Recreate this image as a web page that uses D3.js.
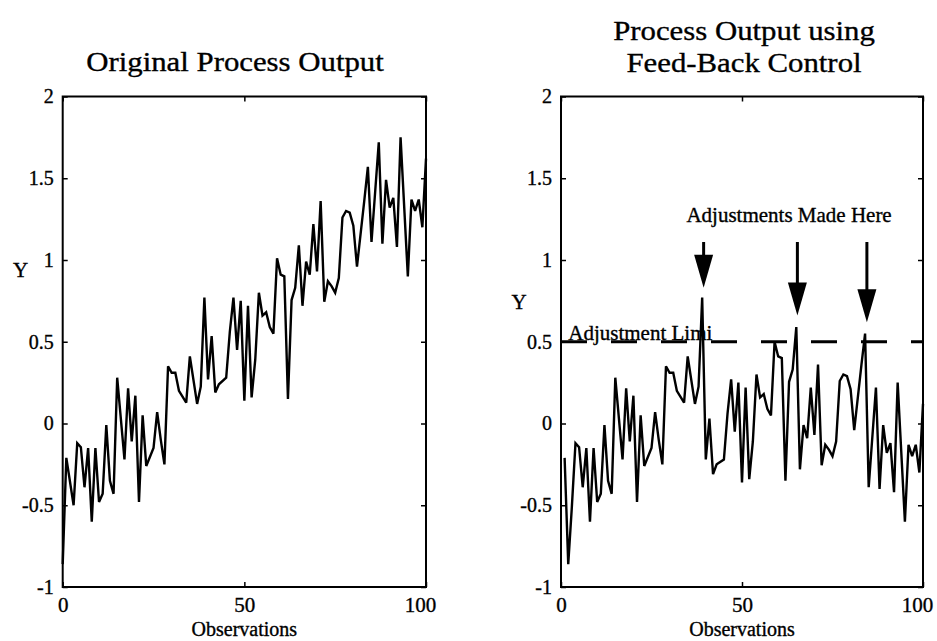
<!DOCTYPE html>
<html>
<head>
<meta charset="utf-8">
<script src="https://cdn.jsdelivr.net/npm/d3@7"></script>
<style>
  html, body { margin: 0; padding: 0; background: #fff; }
  svg { display: block; }
  text { font-family: "Liberation Serif", "Times New Roman", serif; fill: #000; stroke: #000; stroke-width: 0.35px; }
</style>
</head>
<body>
<svg id="chart" width="937" height="641"></svg>
<script>
// ---------- data ----------
const obsOriginal = [0,1,3,4,5,6,7,8,9,10,11,12,13,14,15,17,18,19,20,21,22,23,25,26,27,28,29,30,31,32,34,35,37,38,39,
  40,41,42,43,45,46,47,48,49,50,51,52,53,54,55,56,57,58,59,60,61,62,63,64,65,
  66,67,68,69,70,71,72,73,74,75,76,77,78,79,80,81,83,84,85,87,88,89,90,91,92,93,95,96,97,98,99,100];
const valuesOriginal = [-0.86,-0.21,-0.50,-0.12,-0.145,-0.39,-0.15,-0.60,-0.15,-0.48,-0.43,-0.01,-0.35,-0.43,0.28,-0.22,0.215,-0.11,0.17,-0.48,0.05,-0.26,-0.15,0.07,-0.10,-0.25,0.35,0.31,0.31,0.20,0.127,0.41,0.12,0.225,0.77,
  0.27,0.535,0.19,0.24,0.28,0.56,0.77,0.45,0.75,0.14,0.72,0.16,0.39,0.80,0.66,0.68,0.59,0.55,1.01,0.91,0.90,0.15,0.755,0.83,1.09,
  0.72,0.99,0.91,1.22,0.93,1.36,0.745,0.87,0.84,0.80,0.89,1.26,1.30,1.29,1.21,0.96,1.36,1.57,1.11,1.72,1.10,1.49,1.32,1.38,1.08,1.75,0.90,1.37,1.30,1.37,1.20,1.62];

const obsControlled = [1,2,3,4,5,6,7,8,9,10,11,12,13,14,15,17,18,19,20,21,22,23,25,26,27,28,29,30,31,32,34,35,37,38,39,
  40,41,42,43,45,46,47,48,49,50,51,52,53,54,55,56,57,58,59,60,61,62,63,64,65,
  66,67,68,69,70,71,72,73,74,75,76,77,78,79,80,81,83,84,85,87,88,89,90,91,92,93,95,96,97,98,99,100];
const valuesControlled = [-0.21,-0.86,-0.51,-0.12,-0.145,-0.39,-0.15,-0.60,-0.15,-0.48,-0.43,-0.01,-0.35,-0.43,0.28,-0.22,0.215,-0.11,0.17,-0.48,0.05,-0.26,-0.15,0.07,-0.10,-0.25,0.35,0.31,0.31,0.20,0.127,0.41,0.12,0.225,0.77,
  -0.22,0.03,-0.31,-0.25,-0.22,0.06,0.27,-0.05,0.25,-0.36,0.22,-0.34,-0.11,0.30,0.16,0.18,0.09,0.05,0.50,0.41,0.40,-0.35,0.255,0.33,0.59,
  -0.28,-0.01,-0.09,0.22,-0.07,0.36,-0.255,-0.13,-0.16,-0.20,-0.11,0.26,0.30,0.29,0.21,-0.04,0.36,0.55,-0.39,0.22,-0.40,-0.01,-0.18,-0.12,-0.42,0.25,-0.60,-0.13,-0.20,-0.13,-0.30,0.12];

const yTickValues = [-1, -0.5, 0, 0.5, 1, 1.5, 2];
const yTickLabels = ["-1", "-0.5", "0", "0.5", "1", "1.5", "2"];
const xTickValues = [0, 50, 100];
const xTickLabels = ["0", "50", "100"];

const adjustmentLimit = 0.5;
const adjustmentObs = [39.4, 65.3, 84.5];
const arrowTipValues = [0.83, 0.66, 0.62];
const arrowTopValue = 1.11;

const titleLeft = ["Original Process Output"];
const titleRight = ["Process Output using", "Feed-Back Control"];

// ---------- layout ----------
const svg = d3.select("#chart");
const y = d3.scaleLinear().domain([-1, 2]).range([587, 96.5]);
const xL = d3.scaleLinear().domain([0, 100]).range([62.7, 426]);
const xR = d3.scaleLinear().domain([0, 100]).range([561, 923]);

const fmtY = d => yTickLabels[yTickValues.indexOf(d)];
const fmtX = d => xTickLabels[xTickValues.indexOf(d)];

function panel(x, obs, vals, yLabelY) {
  const g = svg.append("g");
  // left axis with labels
  const ax = g.append("g").attr("transform", `translate(${x.range()[0]},0)`)
    .call(d3.axisLeft(y).tickValues(yTickValues).tickFormat(fmtY).tickSizeInner(-5).tickSizeOuter(0).tickPadding(9));
  ax.select(".domain").remove();
  ax.selectAll("line").attr("stroke", "#000").attr("stroke-width", 1.5);
  ax.selectAll("text").attr("font-size", 20).attr("font-family", "Liberation Serif");
  // right side ticks
  const axr = g.append("g").attr("transform", `translate(${x.range()[1]},0)`)
    .call(d3.axisRight(y).tickValues(yTickValues).tickFormat("").tickSizeInner(-5).tickSizeOuter(0));
  axr.select(".domain").remove();
  axr.selectAll("line").attr("stroke", "#000").attr("stroke-width", 1.5);
  // bottom axis
  const axb = g.append("g").attr("transform", `translate(0,${y(-1)})`)
    .call(d3.axisBottom(x).tickValues(xTickValues).tickFormat(fmtX).tickSizeInner(-5).tickSizeOuter(0).tickPadding(10));
  axb.select(".domain").remove();
  axb.selectAll("line").attr("stroke", "#000").attr("stroke-width", 1.5);
  axb.selectAll("text").attr("font-size", 21).attr("font-family", "Liberation Serif")
    .attr("dx", d => d === 100 ? -6 : 0);
  // top ticks
  const axt = g.append("g").attr("transform", `translate(0,${y(2)})`)
    .call(d3.axisTop(x).tickValues(xTickValues).tickFormat("").tickSizeInner(-5).tickSizeOuter(0));
  axt.select(".domain").remove();
  axt.selectAll("line").attr("stroke", "#000").attr("stroke-width", 1.5);
  // frame
  g.append("rect")
    .attr("x", x(0)).attr("y", y(2))
    .attr("width", x(100) - x(0)).attr("height", y(-1) - y(2))
    .attr("fill", "none").attr("stroke", "#000").attr("stroke-width", 2);
  // data line
  const line = d3.line().x((d, i) => x(obs[i])).y(d => y(d));
  g.append("path").datum(vals)
    .attr("d", line)
    .attr("fill", "none").attr("stroke", "#000").attr("stroke-width", 2.4)
    .attr("stroke-linejoin", "miter").attr("stroke-miterlimit", 3);
  // labels
  g.append("text").attr("x", (x(0) + x(100)) / 2).attr("y", 636)
    .attr("text-anchor", "middle").attr("font-size", 20).text("Observations");
  g.append("text").attr("x", x(0) - 42).attr("y", yLabelY)
    .attr("text-anchor", "middle").attr("font-size", 21).text("Y");
  return g;
}

panel(xL, obsOriginal, valuesOriginal, 277);
const gR = panel(xR, obsControlled, valuesControlled, 309);

// titles (slightly widened serif)
function title(text, cx, base) {
  svg.append("text")
    .attr("transform", `translate(${cx},${base}) scale(1.1,1)`)
    .attr("text-anchor", "middle")
    .attr("font-size", 28).text(text);
}
title(titleLeft[0], 235, 70.5);
titleRight.forEach((t, i) => title(t, 744, 40 + i * 31.5));

// adjustment limit dashed line
gR.append("line")
  .attr("x1", xR(0)).attr("x2", xR(100))
  .attr("y1", y(adjustmentLimit)).attr("y2", y(adjustmentLimit))
  .attr("stroke", "#000").attr("stroke-width", 3).attr("stroke-dasharray", "26,24");
gR.append("text").attr("x", xR(2)).attr("y", y(adjustmentLimit) - 2)
  .attr("font-size", 21).text("Adjustment Limi");

// arrows
const headLen = 33, headHalf = 9.5;
adjustmentObs.forEach((o, i) => {
  const ax = xR(o), tip = y(arrowTipValues[i]);
  gR.append("line").attr("x1", ax).attr("x2", ax)
    .attr("y1", y(arrowTopValue)).attr("y2", tip - headLen + 2)
    .attr("stroke", "#000").attr("stroke-width", 3);
  gR.append("path")
    .attr("d", `M${ax - headHalf},${tip - headLen}L${ax + headHalf},${tip - headLen}L${ax},${tip}Z`)
    .attr("fill", "#000");
});
gR.append("text").attr("x", xR(63)).attr("y", y(1.235)).attr("text-anchor", "middle")
  .attr("font-size", 21).text("Adjustments Made Here");
</script>
</body>
</html>
